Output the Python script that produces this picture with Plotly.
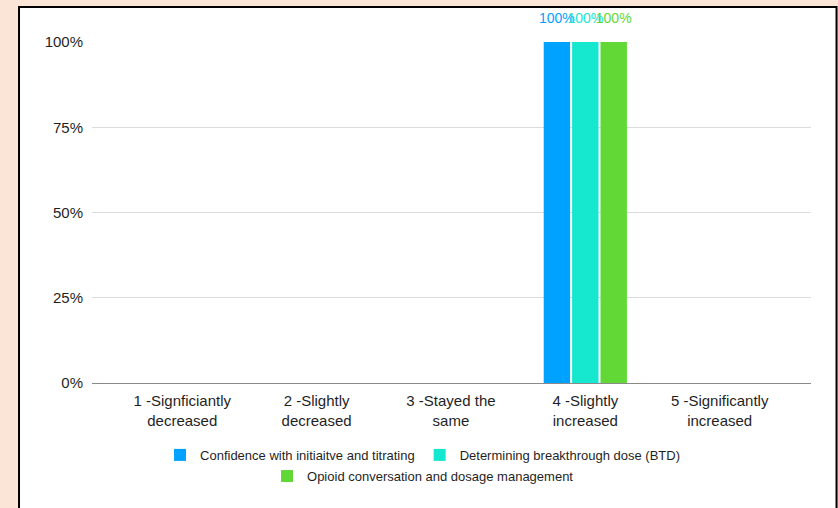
import plotly.graph_objects as go

# Survey answer categories (x axis)
categories = [
    "1 -Signficiantly<br>decreased",
    "2 -Slightly<br>decreased",
    "3 -Stayed the<br>same",
    "4 -Slightly<br>increased",
    "5 -Significantly<br>increased",
]

# Share of respondents per category for each topic
confidence_titrating = [0, 0, 0, 1.0, 0]
breakthrough_dose = [0, 0, 0, 1.0, 0]
opioid_conversation = [0, 0, 0, 1.0, 0]

series_names = [
    "Confidence with initiaitve and titrating",
    "Determining breakthrough dose (BTD)",
    "Opioid conversation and dosage management",
]
series_values = [confidence_titrating, breakthrough_dose, opioid_conversation]
series_colors = ["#00A2FF", "#16E7CF", "#61D836"]
series_legends = ["legend", "legend", "legend2"]

y_ticks = [0, 0.25, 0.5, 0.75, 1.0]
y_tick_labels = ["0%", "25%", "50%", "75%", "100%"]

FONT = "Liberation Sans, Arial, Helvetica, sans-serif"
BARGAP = 0.366

fig = go.Figure()
for i, (name, vals, color, lg) in enumerate(zip(series_names, series_values, series_colors, series_legends)):
    grp = f"g{i}"
    fig.add_trace(go.Bar(
        x=categories,
        y=vals,
        name=name,
        offsetgroup=grp,
        marker=dict(color=color, line=dict(width=0)),
        legend=lg,
        hoverinfo="skip",
    ))
    # value labels floating above each bar
    labels = [f"{v:.0%}" if v > 0 else "" for v in vals]
    fig.add_trace(go.Scatter(
        x=categories,
        y=vals,
        offsetgroup=grp,
        mode="markers+text",
        marker=dict(size=24, color="rgba(0,0,0,0)"),
        text=labels,
        textposition="top center",
        textfont=dict(color=color, size=14, family=FONT),
        cliponaxis=False,
        showlegend=False,
        hoverinfo="skip",
    ))

# White card with black frame on the peach page
fig.add_shape(
    type="rect", xref="paper", yref="paper",
    x0=-0.1015, x1=1.0355, y0=-0.375, y1=1.1025,
    fillcolor="white", line=dict(color="black", width=2),
    layer="below",
)

fig.update_layout(
    width=838, height=508,
    margin=dict(l=92, r=27, t=42, b=125),
    paper_bgcolor="#FBE5D6",
    plot_bgcolor="rgba(0,0,0,0)",
    barmode="group",
    bargap=BARGAP,
    bargroupgap=0.07,
    scattermode="group",
    scattergap=BARGAP,
    font=dict(family=FONT, size=14, color="#1f1f1f"),
    showlegend=True,
    legend=dict(
        orientation="h", x=0.4604, xanchor="center", y=-0.211, yanchor="middle",
        font=dict(size=13, color="#1f1f1f", family=FONT),
        bgcolor="rgba(0,0,0,0)", traceorder="normal",
    ),
    legend2=dict(
        orientation="h", x=0.4604, xanchor="center", y=-0.273, yanchor="middle",
        font=dict(size=13, color="#1f1f1f", family=FONT),
        bgcolor="rgba(0,0,0,0)",
    ),
)

fig.update_xaxes(
    type="category",
    range=[-0.672, 4.68],
    showgrid=False,
    showline=True, linecolor="#8a8a8a", linewidth=1,
    ticks="", ticklabelstandoff=4,
    tickfont=dict(size=15, color="#1f1f1f"),
    fixedrange=True,
)
fig.update_yaxes(
    range=[0, 1.0],
    tickvals=y_ticks, ticktext=y_tick_labels,
    showgrid=True, gridcolor="#dcdcdc", gridwidth=1,
    zeroline=False, showline=False,
    ticks="", ticklabelstandoff=8,
    tickfont=dict(size=15, color="#1f1f1f"),
    fixedrange=True,
)

fig.write_html("out.html")
